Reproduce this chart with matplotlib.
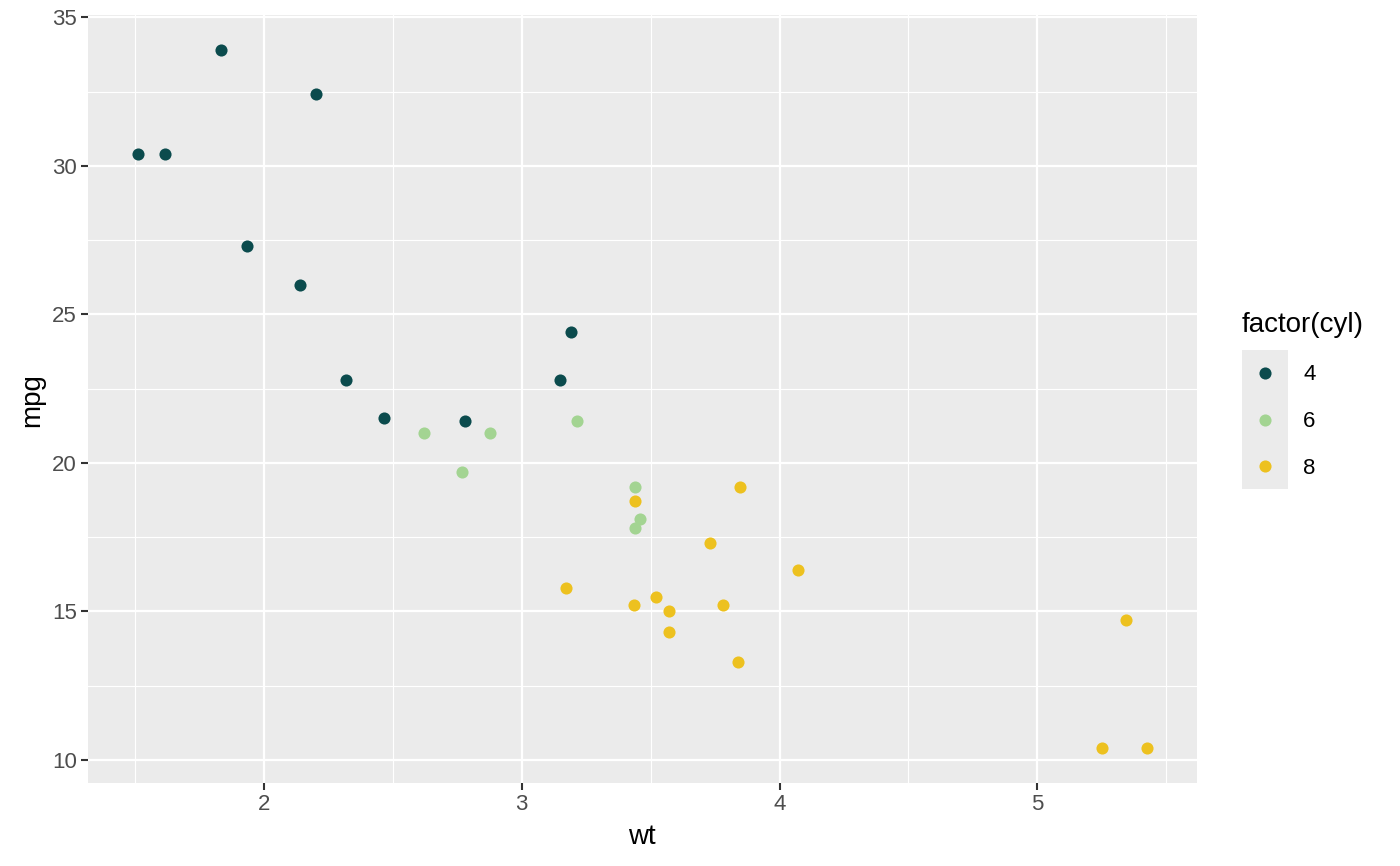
import numpy as np
from matplotlib import pyplot as plt
from matplotlib.ticker import MultipleLocator

plt.rcParams['font.family'] = ['Liberation Sans', 'DejaVu Sans']

# mtcars: weight, mpg, cylinders
wt = [2.620, 2.875, 2.320, 3.215, 3.440, 3.460, 3.570, 3.190, 3.150, 3.440,
      3.440, 4.070, 3.730, 3.780, 5.250, 5.424, 5.345, 2.200, 1.615, 1.835,
      2.465, 3.520, 3.435, 3.840, 3.845, 1.935, 2.140, 1.513, 3.170, 2.770,
      3.570, 2.780]
mpg = [21.0, 21.0, 22.8, 21.4, 18.7, 18.1, 14.3, 24.4, 22.8, 19.2,
       17.8, 16.4, 17.3, 15.2, 10.4, 10.4, 14.7, 32.4, 30.4, 33.9,
       21.5, 15.5, 15.2, 13.3, 19.2, 27.3, 26.0, 30.4, 15.8, 19.7,
       15.0, 21.4]
cyl = [6, 6, 4, 6, 8, 6, 8, 4, 4, 6,
       6, 8, 8, 8, 8, 8, 8, 4, 4, 4,
       4, 8, 8, 8, 8, 4, 4, 4, 8, 6,
       8, 4]
levels = [4, 6, 8]
colors = {4: '#0B4B4D', 6: '#A3D492', 8: '#EDC11F'}

wt = np.array(wt)
mpg = np.array(mpg)
cyl = np.array(cyl)

W, H = 1400, 866
fig = plt.figure(figsize=(14, 8.66), dpi=100)
ax = fig.add_axes([88 / W, 1 - 783 / H, (1197 - 88) / W, (783 - 15) / H])
ax.set_facecolor('#EBEBEB')

for c in levels:
    m = cyl == c
    ax.scatter(wt[m], mpg[m], s=76, color=colors[c], linewidths=0, zorder=3)

xr = wt.max() - wt.min()
yr = mpg.max() - mpg.min()
ax.set_xlim(wt.min() - 0.05 * xr, wt.max() + 0.05 * xr)
ax.set_ylim(mpg.min() - 0.05 * yr, mpg.max() + 0.05 * yr)

ax.xaxis.set_major_locator(MultipleLocator(1))
ax.xaxis.set_minor_locator(MultipleLocator(0.5))
ax.yaxis.set_major_locator(MultipleLocator(5))
ax.yaxis.set_minor_locator(MultipleLocator(2.5))
ax.grid(which='major', color='white', linewidth=1.6, zorder=1)
ax.grid(which='minor', color='white', linewidth=0.8, zorder=1)
ax.set_axisbelow(True)
for s in ax.spines.values():
    s.set_visible(False)
ax.tick_params(which='major', length=5, width=1.5, color='#333333',
               labelcolor='#4D4D4D', labelsize=16, pad=3)
ax.tick_params(which='minor', length=0)

ax.set_xlabel('wt', fontsize=20, va='center')
ax.xaxis.set_label_coords(642 / W, 1 - 837 / H, transform=fig.transFigure)
ax.set_ylabel('mpg', fontsize=20, va='center')
ax.yaxis.set_label_coords(32 / W, 1 - 400 / H, transform=fig.transFigure)

# legend
fig.text(1242 / W, 1 - 325 / H, 'factor(cyl)', fontsize=20, va='center', ha='left')
lax = fig.add_axes([1242 / W, 1 - 489 / H, 46 / W, 139 / H])
lax.set_facecolor('#EBEBEB')
lax.set_xlim(0, 1)
lax.set_ylim(0, 3)
for i, c in enumerate(levels):
    lax.scatter([0.5], [2.5 - i], s=76, color=colors[c], linewidths=0)
    fig.text(1303 / W, 1 - (375 + 46.5 * i) / H, str(c), fontsize=16,
             va='center', ha='left')
lax.set_xticks([])
lax.set_yticks([])
for s in lax.spines.values():
    s.set_visible(False)

plt.savefig('out.png')
